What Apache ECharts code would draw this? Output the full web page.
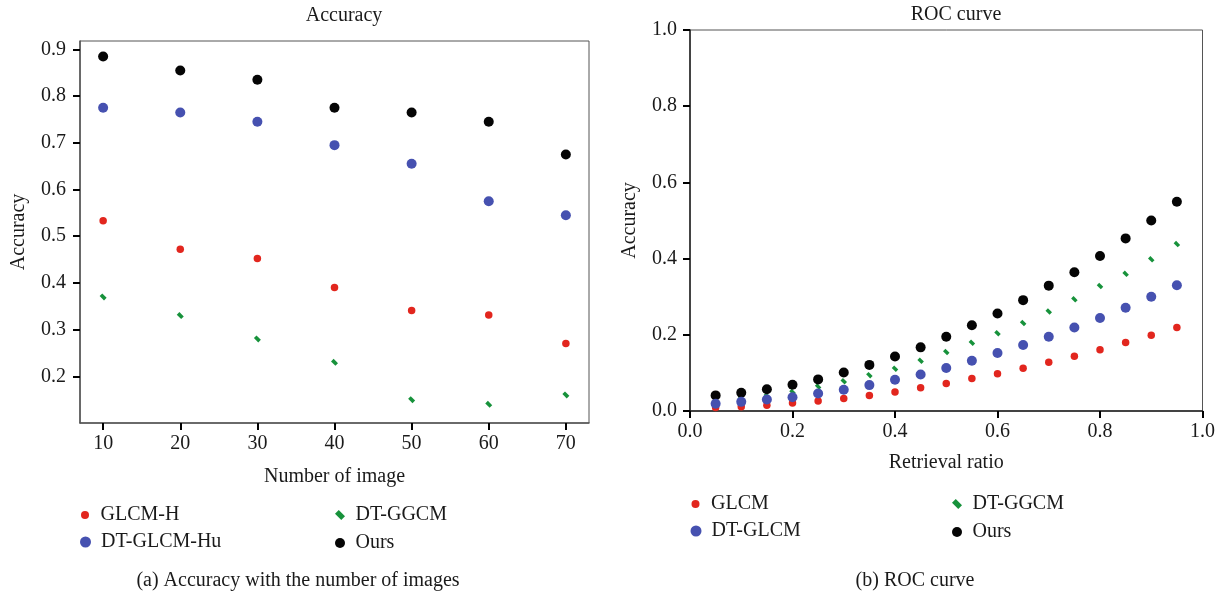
<!DOCTYPE html>
<html>
<head>
<meta charset="utf-8">
<script src="https://cdn.jsdelivr.net/npm/echarts@6/dist/echarts.min.js"></script>
<style>
  html, body { margin: 0; padding: 0; background: #fff; }
  #chart { width: 1224px; height: 599px; }
</style>
</head>
<body>
<div id="chart"></div>
<script>
// (a) accuracy vs number of images
const imageCounts = [10, 20, 30, 40, 50, 60, 70];
const accOurs = [0.885, 0.855, 0.835, 0.775, 0.765, 0.745, 0.675];
const accDtGlcmHu = [0.775, 0.765, 0.745, 0.695, 0.655, 0.575, 0.545];
const accGlcmH = [0.533, 0.472, 0.452, 0.39, 0.341, 0.331, 0.27];
const accDtGgcm = [0.37, 0.33, 0.28, 0.23, 0.15, 0.14, 0.16];
const accYTicks = [0.2, 0.3, 0.4, 0.5, 0.6, 0.7, 0.8, 0.9];

// (b) ROC curve
const retrievalRatio = [0.05, 0.1, 0.15, 0.2, 0.25, 0.3, 0.35, 0.4, 0.45, 0.5,
  0.55, 0.6, 0.65, 0.7, 0.75, 0.8, 0.85, 0.9, 0.95];
const rocOurs = [0.041, 0.048, 0.057, 0.069, 0.083, 0.101, 0.121, 0.143, 0.167, 0.195,
  0.225, 0.256, 0.291, 0.329, 0.364, 0.407, 0.453, 0.5, 0.549];
const rocDtGgcm = [0.026, 0.033, 0.04, 0.05, 0.064, 0.078, 0.094, 0.111, 0.132, 0.155,
  0.179, 0.204, 0.231, 0.261, 0.293, 0.328, 0.36, 0.398, 0.438];
const rocDtGlcm = [0.019, 0.024, 0.03, 0.036, 0.046, 0.056, 0.068, 0.082, 0.096, 0.113,
  0.132, 0.152, 0.173, 0.195, 0.219, 0.244, 0.271, 0.3, 0.33];
const rocGlcm = [0.009, 0.011, 0.015, 0.021, 0.026, 0.033, 0.041, 0.05, 0.061, 0.072,
  0.085, 0.098, 0.112, 0.128, 0.144, 0.161, 0.18, 0.199, 0.219];

const FONT = '"Liberation Serif", "DejaVu Serif", serif';
const TXT = "#1a1a1a";
const RED = "#e2261e";
const BLUE = "#4651b0";
const GREEN = "#17923b";
const BLACK = "#050505";
// short slanted stroke used for DT-GGCM
const DASH = "path://M0,3 L3,0 L8,5 L5,8 Z";

const pairs = (xs, ys) => xs.map((x, i) => [x, ys[i]]);
const fmt1 = (v) => Number(v).toFixed(1);

const scatter = (name, gi, xs, ys, color, symbol, size, z) => ({
  name,
  type: "scatter",
  xAxisIndex: gi,
  yAxisIndex: gi,
  data: pairs(xs, ys),
  symbol,
  symbolSize: size,
  z,
  itemStyle: { color, opacity: 1 },
  emphasis: { disabled: true },
});

const legendItem = (name, left, top, size) => ({
  data: [name],
  left,
  top,
  padding: 0,
  itemWidth: 21,
  itemHeight: size,
  selectedMode: false,
  textStyle: { fontFamily: FONT, fontSize: 20, color: TXT },
});

const textTitle = (text, x, y) => ({
  text,
  left: x,
  top: y,
  padding: 0,
  textAlign: "center",
  textVerticalAlign: "middle",
  textStyle: { fontFamily: FONT, fontSize: 20, fontWeight: "normal", color: TXT },
});

const axisCommon = (lineColor) => ({
  type: "value",
  splitLine: { show: false },
  axisLine: { show: true, onZero: false, lineStyle: { color: lineColor, width: 1.5 } },
  axisTick: { show: true, inside: false, length: 7, lineStyle: { color: "#000", width: 2 } },
  axisLabel: { fontFamily: FONT, fontSize: 20, color: TXT },
  nameLocation: "middle",
  nameTextStyle: { fontFamily: FONT, fontSize: 20, color: TXT },
});

const option = {
  backgroundColor: "#fff",
  animation: false,
  title: [
    textTitle("Accuracy", 344, 16),
    textTitle("ROC curve", 956, 15),
    textTitle("(a) Accuracy with the number of images", 298, 581),
    textTitle("(b) ROC curve", 915, 581),
  ],
  legend: [
    legendItem("GLCM-H", 81, 505, 8),
    legendItem("DT-GLCM-Hu", 80, 532, 11),
    legendItem("DT-GGCM", 335, 505, 10),
    legendItem("Ours", 335, 533, 10),
    legendItem("GLCM", 691.5, 494, 8),
    legendItem("DT-GLCM", 690.5, 521, 11),
    legendItem("DT-GGCM", 952, 494, 10),
    legendItem("Ours", 952, 522, 10),
  ],
  grid: [
    { left: 80, right: 635, top: 41, bottom: 176, show: true, borderColor: "#555", borderWidth: 1, backgroundColor: "transparent" },
    { left: 690, right: 21.5, top: 30, bottom: 188, show: true, borderColor: "#555", borderWidth: 1, backgroundColor: "transparent" },
  ],
  xAxis: [
    Object.assign(axisCommon("#555"), {
      gridIndex: 0,
      min: 7,
      max: 73,
      name: "Number of image",
      nameGap: 44,
      axisTick: { show: true, length: 7, customValues: imageCounts, lineStyle: { color: "#000", width: 2 } },
      axisLabel: { fontFamily: FONT, fontSize: 20, color: TXT, margin: 11, customValues: imageCounts },
    }),
    Object.assign(axisCommon("#222"), {
      gridIndex: 1,
      min: 0,
      max: 1,
      interval: 0.2,
      name: "Retrieval ratio",
      nameGap: 42,
      axisLabel: { fontFamily: FONT, fontSize: 20, color: TXT, margin: 11, formatter: fmt1 },
    }),
  ],
  yAxis: [
    Object.assign(axisCommon("#555"), {
      gridIndex: 0,
      min: 0.1,
      max: 0.918,
      name: "Accuracy",
      nameGap: 51,
      axisTick: { show: true, length: 7, customValues: accYTicks, lineStyle: { color: "#000", width: 2 } },
      axisLabel: { fontFamily: FONT, fontSize: 20, color: TXT, margin: 14, customValues: accYTicks, formatter: fmt1 },
    }),
    Object.assign(axisCommon("#222"), {
      gridIndex: 1,
      min: 0,
      max: 1,
      interval: 0.2,
      name: "Accuracy",
      nameGap: 50,
      axisLabel: { fontFamily: FONT, fontSize: 20, color: TXT, margin: 13, formatter: fmt1 },
    }),
  ],
  series: [
    scatter("GLCM-H", 0, imageCounts, accGlcmH, RED, "circle", 7.5, 2),
    scatter("DT-GLCM-Hu", 0, imageCounts, accDtGlcmHu, BLUE, "circle", 10, 2),
    scatter("DT-GGCM", 0, imageCounts, accDtGgcm, GREEN, DASH, 7, 2),
    scatter("Ours", 0, imageCounts, accOurs, BLACK, "circle", 10, 2),

    scatter("GLCM", 1, retrievalRatio, rocGlcm, RED, "circle", 7.5, 2),
    scatter("DT-GGCM", 1, retrievalRatio, rocDtGgcm, GREEN, DASH, 6.5, 3),
    scatter("Ours", 1, retrievalRatio, rocOurs, BLACK, "circle", 10, 4),
    scatter("DT-GLCM", 1, retrievalRatio, rocDtGlcm, BLUE, "circle", 10, 5),
  ],
};

const chart = echarts.init(document.getElementById("chart"), null, { renderer: "canvas" });
chart.setOption(option);
</script>
</body>
</html>
